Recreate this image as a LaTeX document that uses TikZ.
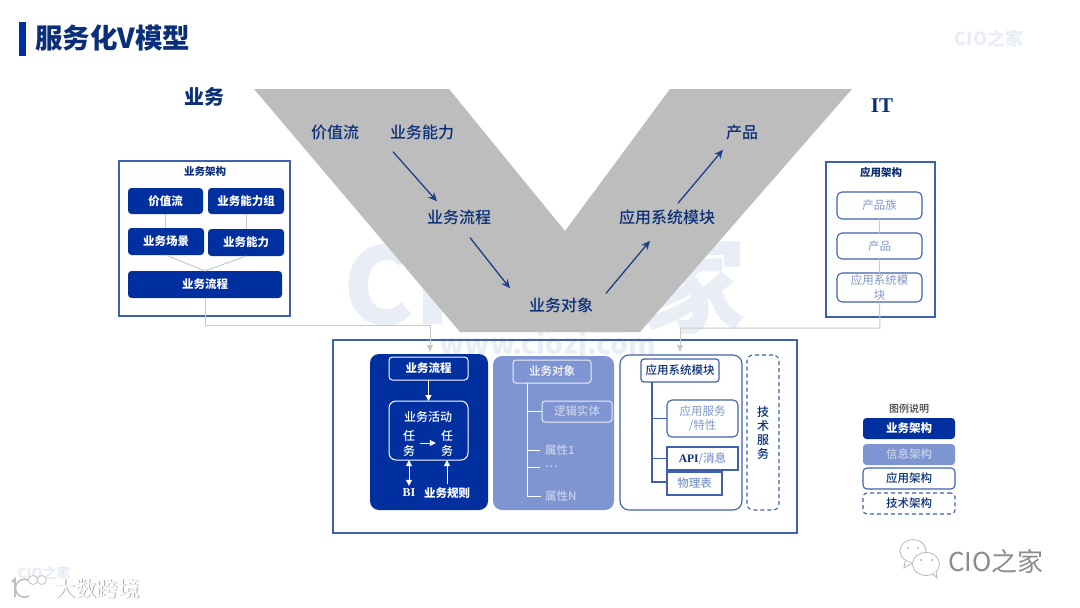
\documentclass[tikz,border=0pt]{standalone}
\usepackage{fontspec}
\setmainfont{Noto Sans CJK SC}
\newfontfamily\medf{Noto Sans CJK SC}[UprightFont=* Medium]
\newfontfamily\latinser{Liberation Serif}
\usetikzlibrary{calc,arrows.meta}
\definecolor{navy}{HTML}{002FA0}
\definecolor{midblue}{HTML}{7F95D2}
\definecolor{linkblue}{HTML}{3F60AE}
\definecolor{softtxt}{HTML}{8097C8}
\definecolor{paletxt}{HTML}{C7D1EA}
\definecolor{titleblue}{HTML}{0A2F78}
\definecolor{vgray}{HTML}{BDBDBD}
\definecolor{linkgray}{HTML}{C9C9C9}
\definecolor{wm}{HTML}{E8EDF6}
\definecolor{varrow}{HTML}{1F3F86}
\newcommand{\bx}[7]{%
  \pgfmathsetmacro{\cxx}{(#2+#4)/2}\pgfmathsetmacro{\cyy}{(#3+#5)/2}%
  \pgfmathsetmacro{\wdd}{#4-#2}\pgfmathsetmacro{\htt}{#5-#3}%
  \node[#6,minimum width=\wdd pt,minimum height=\htt pt] (#1) at (\cxx,\cyy) {#7};}
\tikzset{
  base/.style={inner sep=0pt,outer sep=0pt,align=center,font=\fontsize{11.5}{14.5}\selectfont\medf},
  solidnavy/.style={base,fill=navy,text=white,rounded corners=3.5pt,font=\fontsize{11.5}{14.5}\selectfont\bfseries},
  framewhite/.style={base,draw=white,line width=1pt,text=white,rounded corners=3.5pt,font=\fontsize{11.5}{14.5}\selectfont\bfseries},
  frameblue/.style={base,draw=linkblue,line width=1.1pt,rounded corners=5pt,fill=white,text=softtxt},
  sharpblue/.style={base,draw=linkblue,line width=1.1pt,fill=white,text=softtxt},
  lightframe/.style={base,draw=white!85!midblue,line width=1pt,text=paletxt,rounded corners=3pt},
  outer/.style={base,draw=linkblue,line width=1.3pt},
  graylink/.style={draw=linkgray,line width=1pt},
  grayarrow/.style={graylink,-{Triangle[length=7pt,width=6pt]}},
  whitearrow/.style={draw=white,line width=1pt,-{Triangle[length=6pt,width=6pt]}},
  whitedouble/.style={draw=white,line width=1pt,{Triangle[length=6pt,width=6pt]}-{Triangle[length=6pt,width=6pt]}},
  treewhite/.style={draw=white,line width=1pt},
  treeblue/.style={draw=linkblue,line width=1.1pt},
  varrowstyle/.style={draw=varrow,line width=1.3pt,-{Stealth[length=9pt,width=8pt]}},
  vlabel/.style={inner sep=0pt,font=\fontsize{16}{18}\selectfont\medf,text=titleblue},
  plain/.style={inner sep=0pt,align=center,font=\fontsize{11.5}{14.5}\selectfont\medf}
}
\begin{document}
\begin{tikzpicture}[x=1pt,y=-1pt]
\useasboundingbox (0,0) rectangle (1080,608);
\fill[white] (0,0) rectangle (1080,608);
% watermark behind
\node[inner sep=0pt,font=\fontsize{106}{110}\selectfont\bfseries,text=wm] (wmark) at (545,284) {CIO之家};
\node[inner sep=0pt,font=\fontsize{28}{30}\selectfont\bfseries,text=wm] (wmurl) at (548,346) {www.ciozj.com};
% title
\fill[navy] (19,22) rectangle (26,56);
\node[inner sep=0pt,anchor=west,font=\fontsize{27.5}{30}\selectfont\bfseries,text=titleblue] (title) at (35,38) {服务化V模型};
\node[inner sep=0pt,font=\fontsize{18}{20}\selectfont\bfseries,text=wm] (topwm) at (989,39) {CIO之家};
\node[inner sep=0pt,font=\fontsize{20}{22}\selectfont\bfseries,text=titleblue] (lbiz) at (204,97) {业务};
\node[inner sep=0pt,font=\latinser\fontsize{21}{23}\selectfont\bfseries,text=titleblue] (lit) at (882,106) {IT};
% V
\fill[vgray] (254,89) -- (449,89) -- (565,231) -- (670,89) -- (852,89) -- (640,332) -- (460,332) -- cycle;
\node[vlabel] (v1) at (335,132) {价值流};
\node[vlabel] (v2) at (422,132) {业务能力};
\node[vlabel] (v3) at (459,217) {业务流程};
\node[vlabel] (v4) at (561,305) {业务对象};
\node[vlabel] (v5) at (667,217) {应用系统模块};
\node[vlabel] (v6) at (742,132) {产品};
\draw[varrowstyle] ($(v2.south)+(-29,12)$) -- ($(v3.north)+(-22,-8)$);
\draw[varrowstyle] ($(v3.south)+(11,13)$) -- ($(v4.north)+(-51,-9)$);
\draw[varrowstyle] ($(v4.north)+(45,-4)$) -- ($(v5.south)+(-17,16)$);
\draw[varrowstyle] ($(v5.north)+(11,-6)$) -- ($(v6.south)+(-19,10)$);
% left box
\bx{lbox}{119}{161}{290}{316}{outer}{}
\node[plain,text=titleblue,font=\fontsize{10.5}{12}\selectfont\bfseries] (ltitle) at (205,171.5) {业务架构};
\bx{l1}{128}{188}{203}{214}{solidnavy}{价值流}
\bx{l2}{208}{188}{284}{214}{solidnavy}{业务能力组}
\bx{l3}{128}{228}{204}{255}{solidnavy}{业务场景}
\bx{l4}{208}{229}{284}{256}{solidnavy}{业务能力}
\bx{l5}{128}{271}{282}{298}{solidnavy}{业务流程}
\draw[graylink] (l1.south) -- (l3.north -| l1.south);
\draw[graylink] (l2.south) -- (l4.north -| l2.south);
\draw[graylink] (l3.south) -- (l5.north);
\draw[graylink] (l4.south) -- (l5.north);
% right box
\bx{rbox}{826}{162}{935}{317}{outer}{}
\node[plain,text=titleblue,font=\fontsize{10.5}{12}\selectfont\bfseries] (rtitle) at (881,172.5) {应用架构};
\bx{r1}{837}{192}{922}{219}{frameblue,font=\fontsize{11.5}{14.5}\selectfont}{产品族}
\bx{r2}{837}{233}{922}{259}{frameblue,font=\fontsize{11.5}{14.5}\selectfont}{产品}
\bx{r3}{837}{273}{922}{302}{frameblue,font=\fontsize{11.5}{14.5}\selectfont}{应用系统模\\块}
\draw[graylink] (r1) -- (r2);
\draw[graylink] (r2) -- (r3);
% main box
\bx{mainb}{333}{340}{797}{533}{base,draw=linkblue,line width=1.1pt}{}
% dark panel
\bx{pbiz}{370}{354}{488}{510}{base,fill=navy,rounded corners=9pt}{}
\bx{bflow}{389}{357}{468}{380}{framewhite}{业务流程}
\bx{bact}{389}{401}{468}{460}{base,draw=white,line width=1pt,rounded corners=7pt}{}
\node[plain,text=white,font=\fontsize{12}{15}\selectfont\medf] (bacttxt) at (428,417) {业务活动};
\node[plain,text=white,font=\fontsize{12}{15}\selectfont\medf] (t1) at (409,443) {任\\务};
\node[plain,text=white,font=\fontsize{12}{15}\selectfont\medf] (t2) at (447,443) {任\\务};
\node[plain,text=white,font=\latinser\fontsize{12}{15}\selectfont\bfseries] (bi) at (409,493) {BI};
\node[plain,text=white,font=\fontsize{11.5}{14.5}\selectfont\bfseries] (rules) at (447,493) {业务规则};
\draw[whitearrow] (bflow) -- (bact);
\draw[whitearrow] ($(t1.east)+(5,0)$) -- ($(t2.west)+(-5,0)$);
\draw[whitedouble] (bact.south -| bi.north) -- ($(bi.north)+(0,-3)$);
\draw[whitearrow] ($(rules.north)+(0,-3)$) -- (bact.south -| rules.north);
% light panel
\bx{pobj}{493}{356}{614}{510}{base,fill=midblue,rounded corners=9pt}{}
\bx{oflow}{513}{360}{591}{383}{base,draw=white!85!midblue,line width=1pt,text=white,rounded corners=3pt}{业务对象}
\bx{ent}{542}{401}{612}{422}{lightframe}{逻辑实体}
\node[plain,text=paletxt,anchor=west] (a1t) at (545,450) {属性1};
\node[plain,text=paletxt,anchor=west] (a2t) at (545,467) {…};
\node[plain,text=paletxt,anchor=west] (a3t) at (545,496) {属性N};
\coordinate (ot) at (527,383);
\coordinate (ob) at (527,496);
\draw[treewhite] (ot) -- (ob) -- ($(a3t.west)+(-4,0)$);
\draw[treewhite] (ot |- ent.west) -- (ent.west);
\draw[treewhite] (ot |- a1t.west) -- ($(a1t.west)+(-5,0)$);
\draw[treewhite] (ot |- a2t.west) -- ($(a2t.west)+(-5,0)$);
% app panel
\bx{papp}{620}{355}{742}{510}{base,draw=linkblue,line width=1.1pt,rounded corners=9pt}{}
\bx{amod}{641}{359}{719}{382}{base,draw=linkblue,line width=1.2pt,text=titleblue,rounded corners=3pt,fill=white}{应用系统模块}
\bx{asvc}{667}{400}{738}{437}{frameblue,font=\fontsize{11.5}{14.5}\selectfont}{应用服务\\/特性}
\bx{aapi}{667}{447}{738}{470}{sharpblue}{{\latinser\bfseries\color{titleblue}API}/消息}
\bx{atab}{667}{472}{722}{495}{sharpblue}{物理表}
\coordinate (at) at (652,382);
\coordinate (ab) at (652,482);
\draw[treeblue] (at) -- (ab) -- (atab.west |- ab);
\draw[treeblue] (at |- asvc.west) -- (asvc.west);
\draw[treeblue] (at |- aapi.west) -- (aapi.west);
% tech
\bx{ptech}{747}{355}{779}{510}{base,font=\fontsize{12}{14}\selectfont\medf,draw=linkblue,line width=1.1pt,dashed,dash pattern=on 4pt off 3pt,rounded corners=6pt,text=titleblue}{技\\术\\服\\务}
% incoming links
\coordinate (j1) at (205,325);
\coordinate (j2) at (430,325);
\coordinate (j3) at (880,328);
\coordinate (j4) at (680,328);
\draw[graylink] (l5.south) -- (j1) -- (j2);
\draw[grayarrow] (j2) -- (430,352);
\draw[graylink] (r3.south) -- (j3) -- (j4);
\draw[grayarrow] (j4) -- (680,352);
% legend
\node[plain,text=black!75,font=\fontsize{10}{12}\selectfont\medf] (lgt) at (909,409) {图例说明};
\bx{lg1}{863}{418}{955}{439}{solidnavy}{业务架构}
\bx{lg2}{863}{444}{955}{465}{base,fill=midblue,text=paletxt,rounded corners=3.5pt}{信息架构}
\bx{lg3}{863}{468}{955}{489}{base,draw=linkblue,line width=1.1pt,text=titleblue,rounded corners=4pt}{应用架构}
\bx{lg4}{863}{493}{955}{514}{base,draw=linkblue,line width=1.1pt,dashed,dash pattern=on 4pt off 3pt,text=titleblue,rounded corners=4pt}{技术架构}
% footer marks
\node[inner sep=0pt,font=\fontsize{14}{16}\selectfont\bfseries,text=wm] (wmb) at (44,573) {CIO之家};
\draw[gray!50,line width=1.8pt] (12,582) -- (15,579) -- (15,597);
\draw[gray!50,line width=1.6pt] (29,596) arc (60:300:9);
\draw[gray!40,line width=1pt,fill=white] (33,580) circle (4.5);
\draw[gray!40,line width=1pt,fill=white] (42,580) circle (4.5);
\node[inner sep=0pt,font=\fontsize{21.3}{24}\selectfont,text=black!35] (ds2) at (97.7,589.7) {大数跨境};
\node[inner sep=0pt,font=\fontsize{21.3}{24}\selectfont,text=white] (ds) at (97,589) {大数跨境};
% wechat icon
\draw[gray!55,line width=.8pt,fill=white] (913,551) ellipse (13 and 11.5);
\draw[gray!55,line width=.8pt,fill=white] (905,561) -- (904,568) -- (912,563);
\draw[gray!55,line width=.8pt,fill=white] (926,564) ellipse (13.5 and 11.5);
\draw[gray!55,line width=.8pt,fill=white] (933,574) -- (937,578) -- (936,571);
\fill[gray!60] (908,548) circle (1) (918,548) circle (1) (921,560) circle (1.1) (932,560) circle (1.1);
\node[inner sep=0pt,font=\fontsize{26}{28}\selectfont,text=black!45] (cio2) at (996,561) {CIO之家};
\end{tikzpicture}
\end{document}
